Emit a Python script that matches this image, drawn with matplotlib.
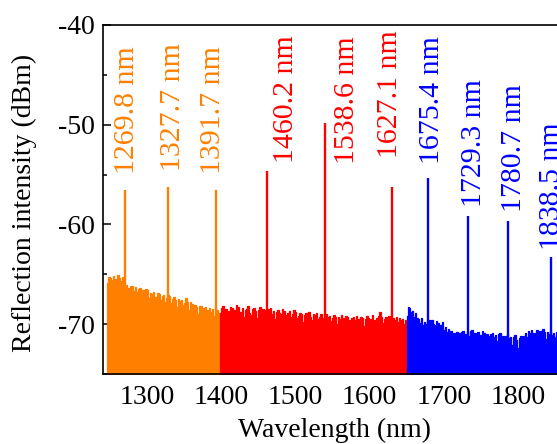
import numpy as np
import matplotlib
matplotlib.use("Agg")
import matplotlib.pyplot as plt
from matplotlib.ticker import MultipleLocator

plt.rcParams['font.family'] = ['Liberation Serif', 'DejaVu Serif']
plt.rcParams['axes.unicode_minus'] = False

# background spectrum, 2 nm sampling, three sources
orange_wl = np.arange(1246, 1399, 2)
orange_db = [
    -65.9, -65.3, -65.4, -65.6, -65.2, -65.5, -65.5, -65.1, -65.4, -65.7,
    -65.3, -66.0, -66.3, -66.1, -66.4, -66.6, -66.2, -66.2, -66.7, -66.3,
    -66.8, -66.5, -66.4, -67.2, -66.6, -66.9, -66.5, -66.6, -67.4, -66.9,
    -67.0, -66.8, -67.3, -67.3, -66.9, -67.0, -67.6, -67.2, -67.1, -67.8,
    -67.4, -67.1, -67.2, -67.9, -67.5, -67.3, -67.6, -68.3, -67.5, -67.7,
    -67.6, -68.1, -67.9, -67.4, -67.8, -68.6, -67.8, -68.0, -68.5, -68.1,
    -68.3, -69.0, -68.2, -68.2, -68.7, -68.4, -68.3, -69.3, -68.6, -68.4,
    -68.8, -68.5, -69.2, -68.4, -68.6, -68.9, -69.3]

red_wl = np.arange(1398, 1651, 2)
red_db = [
    -68.9, -68.4, -68.2, -68.6, -68.5, -69.2, -68.7, -68.3, -68.4, -69.0,
    -68.6, -68.1, -68.3, -68.9, -68.8, -68.4, -69.3, -68.6, -68.5, -68.2,
    -68.9, -69.1, -68.5, -68.4, -68.7, -69.4, -68.6, -68.3, -68.8, -68.5,
    -68.6, -69.2, -68.9, -68.5, -68.4, -69.0, -68.7, -69.5, -68.8, -68.6,
    -68.9, -69.0, -68.5, -68.7, -69.6, -69.1, -68.9, -68.7, -69.3, -69.0,
    -68.6, -68.8, -69.4, -69.2, -68.9, -69.0, -69.8, -69.1, -68.9, -69.2,
    -68.8, -69.3, -69.6, -69.0, -69.1, -68.9, -69.5, -69.3, -69.0, -69.4,
    -69.9, -69.2, -69.0, -69.3, -69.2, -69.7, -69.4, -69.1, -69.3, -70.0,
    -69.3, -69.5, -69.1, -69.4, -69.8, -69.2, -69.3, -69.6, -70.1, -69.4,
    -69.3, -69.6, -69.2, -69.5, -69.9, -69.3, -69.4, -70.2, -69.5, -69.2,
    -69.4, -69.7, -69.5, -69.1, -69.6, -70.0, -69.4, -69.2, -68.8, -69.3,
    -69.9, -69.5, -69.3, -69.7, -69.2, -69.5, -70.1, -69.4, -69.6, -69.3,
    -69.8, -69.4, -69.6, -69.5, -70.0, -69.6, -69.9]

blue_wl = np.arange(1650, 1861, 2)
blue_db = [
    -69.2, -68.3, -68.4, -68.8, -68.7, -69.3, -68.9, -69.4, -69.5, -69.9,
    -69.4, -70.1, -69.8, -70.0, -69.7, -69.6, -70.2, -69.6, -70.0, -70.1,
    -69.7, -69.9, -70.4, -70.1, -69.8, -70.6, -70.3, -70.8, -70.5, -71.0,
    -70.7, -71.2, -70.9, -71.1, -70.8, -71.3, -70.9, -70.8, -70.7, -71.4,
    -71.0, -70.8, -71.2, -70.7, -70.6, -71.0, -70.9, -71.5, -70.8, -71.2,
    -71.1, -70.7, -70.9, -71.6, -71.0, -71.2, -71.9, -71.0, -70.9, -71.3,
    -71.1, -71.7, -71.0, -70.9, -71.6, -71.2, -72.0, -71.2, -71.0, -71.4,
    -71.3, -72.1, -71.3, -71.1, -71.6, -72.4, -71.4, -71.2, -71.9, -71.2,
    -70.9, -71.3, -70.7, -70.9, -70.6, -71.4, -70.9, -71.2, -70.6, -71.0,
    -70.7, -71.1, -70.5, -70.8, -71.5, -70.8, -71.0, -70.7, -71.1, -70.9,
    -71.3, -70.8, -71.2, -70.9, -71.0, -70.8]

# reflection peaks
peak_wl = [1269.5, 1327.5, 1392, 1461, 1540, 1630, 1678, 1732, 1786, 1845]
peak_db = [-56.5, -56.2, -56.5, -54.6, -49.8, -56.2, -55.3, -59.2, -59.7, -63.3]
peak_labels = ['1269.8 nm', '1327.7 nm', '1391.7 nm', '1460.2 nm', '1538.6 nm',
               '1627.1 nm', '1675.4 nm', '1729.3 nm', '1780.7 nm', '1838.5 nm']
peak_src = [0, 0, 0, 1, 1, 1, 2, 2, 2, 2]

x_ticks = [1300, 1400, 1500, 1600, 1700, 1800]

colors = ['#FF8000', '#FF0000', '#0000FF']
label_pos = [(1273, -54.9), (1334, -54.6), (1388, -54.9), (1486.5, -53.8),
             (1569, -53.9), (1627, -53.3), (1684, -53.9), (1740.5, -58.3),
             (1794.6, -58.8), (1846, -62.6)]

fig = plt.figure(figsize=(5.57, 4.44), dpi=100)
# axes runs past the right edge, the original figure is cropped there
ax = fig.add_axes([103/557, 70/444, 489/557, 349/444])

ymin = -75
for wl, db, c in zip([orange_wl, red_wl, blue_wl], [orange_db, red_db, blue_db], colors):
    ax.fill_between(wl, ymin, db, step='mid', color=c, linewidth=0.9,
                    edgecolor=c, zorder=3)

for w, d, s in zip(peak_wl, peak_db, peak_src):
    ax.vlines(w, ymin, d, color=colors[s], linewidth=1.7, zorder=3)

for (x, y), lab, s in zip(label_pos, peak_labels, peak_src):
    ax.text(x, y, lab, rotation=90, ha='center', va='bottom',
            color=colors[s], fontsize=21.5)

ax.set_xlim(1240, 1900)
ax.set_ylim(ymin, -40)
ax.set_xticks(x_ticks)
ax.yaxis.set_major_locator(MultipleLocator(10))
ax.yaxis.set_minor_locator(MultipleLocator(5))
ax.tick_params(which='both', direction='in', labelsize=20, width=1.1)
ax.tick_params(which='major', length=6, pad=6)
ax.tick_params(which='minor', length=3)
ax.tick_params(axis='x', pad=8)
for sp in ax.spines.values():
    sp.set_linewidth(1.2)
    sp.set_zorder(4)

ax.set_xlabel('Wavelength (nm)', fontsize=20)
ax.set_ylabel('Reflection intensity (dBm)', fontsize=20)
ax.xaxis.set_label_coords(0.474, -0.125)
ax.yaxis.set_label_coords(-0.135, 0.49)

fig.savefig('out.png', dpi=100)
